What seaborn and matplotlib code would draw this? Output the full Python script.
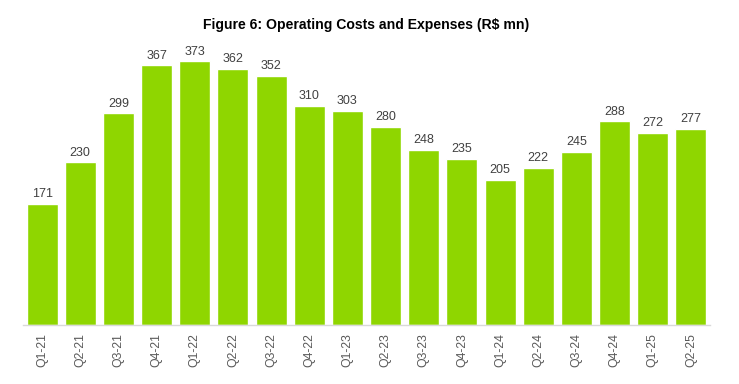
import numpy as np
import pandas as pd
import seaborn as sns
import matplotlib.pyplot as plt

quarters = ["Q1-21", "Q2-21", "Q3-21", "Q4-21", "Q1-22", "Q2-22", "Q3-22", "Q4-22", "Q1-23",
            "Q2-23", "Q3-23", "Q4-23", "Q1-24", "Q2-24", "Q3-24", "Q4-24", "Q1-25", "Q2-25"]
costs = [171, 230, 299, 367, 373, 362, 352, 310, 303,
         280, 248, 235, 205, 222, 245, 288, 272, 277]

sns.set_style("white")
plt.rcParams['font.family'] = ['Liberation Sans', 'DejaVu Sans']

df = pd.DataFrame({'quarter': quarters, 'cost': costs})

fig = plt.figure(figsize=(7.39, 3.84), dpi=100)
ax = fig.add_axes([23 / 739, 1 - 325 / 384, (710 - 23) / 739, (325 - 42) / 384])
sns.barplot(data=df, x='quarter', y='cost', color='#8fd600', saturation=1, width=0.81, ax=ax)

for i, v in enumerate(costs):
    ax.text(i, v + 5, str(v), ha='center', va='bottom', fontsize=9, color='#404040')

ax.set_ylim(0, 400)
ax.set_xlim(-0.5, len(quarters) - 0.5)
ax.set_xlabel('')
ax.set_ylabel('')
ax.set_yticks([])
for s in ['top', 'right', 'left']:
    ax.spines[s].set_visible(False)
ax.spines['bottom'].set_color('#d9d9d9')
ax.spines['bottom'].set_linewidth(1)

# ticks at category boundaries, labels at centres
ax.set_xticks(np.arange(len(quarters)))
ax.set_xticklabels(quarters, rotation=90, fontsize=8.8, color='#595959')
ax.tick_params(axis='x', which='major', length=0, pad=6)
ax.set_xticks(np.arange(-0.5, len(quarters)), minor=True)
ax.tick_params(axis='x', which='minor', length=4, color='#d0d0d0', width=1)

fig.text(0.495, 1 - 25 / 384, 'Figure 6: Operating Costs and Expenses (R$ mn)',
         ha='center', va='center', fontsize=10.1, fontweight='bold', color='black')

fig.savefig('out.png', dpi=100)
